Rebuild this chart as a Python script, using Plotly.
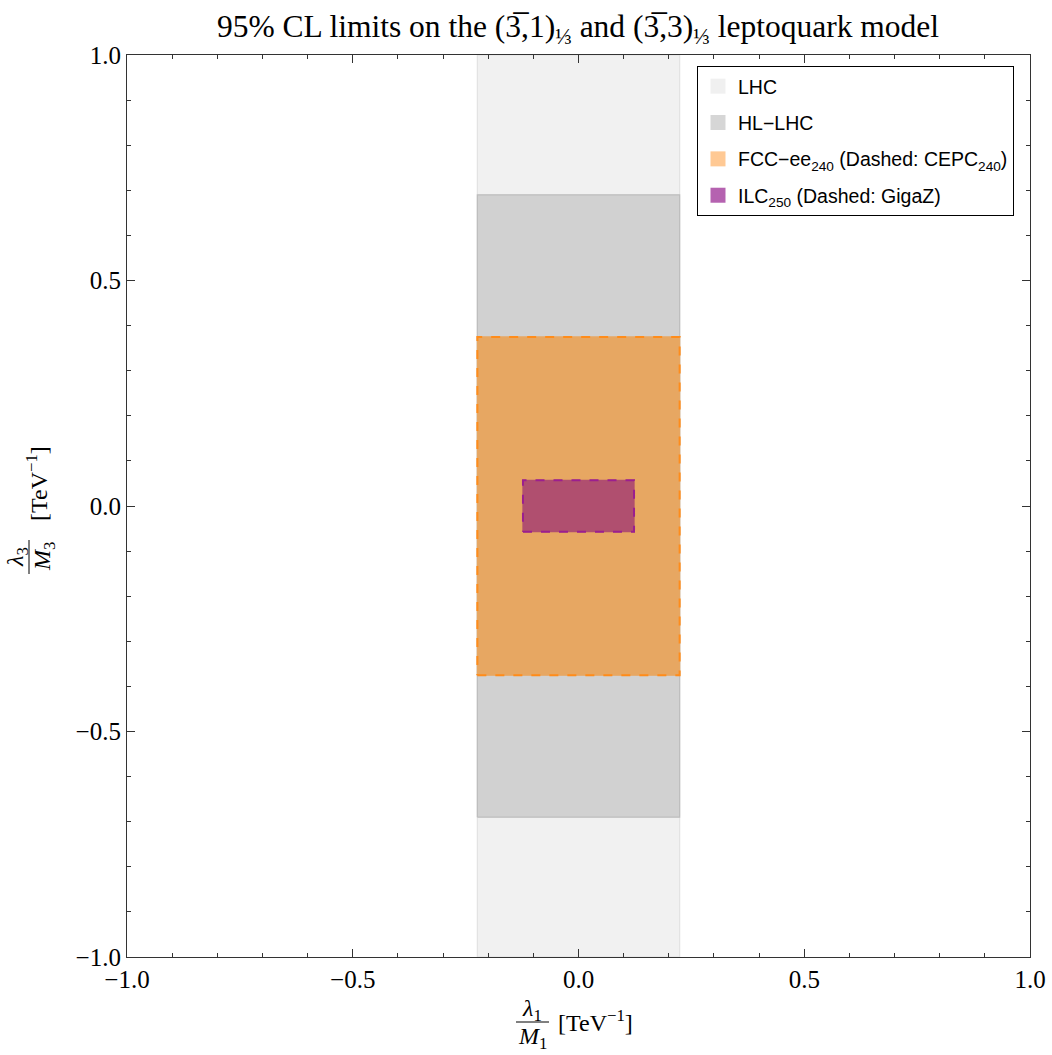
import plotly.graph_objects as go

# ---- data (limits, TeV^-1) ----
region_names = ["LHC", "HL-LHC", "FCC-ee240", "ILC250"]
x_half = [0.224, 0.224, 0.224, 0.123]     # half-width along lambda1/M1
y_half = [1.0, 0.690, 0.375, 0.057]       # half-width along lambda3/M3
dashed_names = ["CEPC240", "GigaZ"]
dashed_x_half = [0.224, 0.123]
dashed_y_half = [0.375, 0.057]
tick_vals = [-1.0, -0.5, 0.0, 0.5, 1.0]
tick_text = ["\u22121.0", "\u22120.5", "0.0", "0.5", "1.0"]

legend_labels = [
    "LHC",
    "HL\u2212LHC",
    "FCC\u2212ee<sub>240</sub> (Dashed: CEPC<sub>240</sub>)",
    "ILC<sub>250</sub> (Dashed: GigaZ)",
]
fill_colors = ["#f1f1f1", "#d1d1d1", "#e7a762", "#b04f6f"]
edge_colors = ["#e2e2e2", "#bdbdbd", "#e7a762", "#b04f6f"]
legend_colors = ["#f0f0f0", "#d6d6d6", "#ffc994", "#b562b0"]
dash_colors = ["#ff8c1a", "#9b1f8f"]

W, H = 1052, 1055
L, R, T, B = 127, 22, 55, 98
PW, PH = W - L - R, H - T - B


def px(x):
    return (x - L) / PW


def py(y):
    return (H - B - y) / PH


def rect(hx, hy):
    return [-hx, hx, hx, -hx, -hx], [-hy, -hy, hy, hy, -hy]


fig = go.Figure()

for i, name in enumerate(region_names):
    xs, ys = rect(x_half[i], y_half[i])
    fig.add_trace(go.Scatter(x=xs, y=ys, fill="toself", mode="lines",
                             fillcolor=fill_colors[i],
                             line=dict(color=edge_colors[i], width=1.2),
                             showlegend=False, hoverinfo="skip", name=name))
    if i >= 2:
        j = i - 2
        dxs, dys = rect(dashed_x_half[j], dashed_y_half[j])
        fig.add_trace(go.Scatter(x=dxs, y=dys, mode="lines",
                                 line=dict(color=dash_colors[j], width=2, dash="dash"),
                                 showlegend=False, hoverinfo="skip",
                                 name=dashed_names[j]))

for i, lab in enumerate(legend_labels):
    fig.add_trace(go.Scatter(x=[None], y=[None], mode="markers",
                             marker=dict(symbol="square", size=15,
                                         color=legend_colors[i],
                                         line=dict(width=0)),
                             name=lab, showlegend=True,
                             legendgroup=f"g{i}"))

axis_common = dict(
    range=[-1, 1], tickvals=tick_vals, ticktext=tick_text,
    ticks="inside", ticklen=8, tickwidth=1, tickcolor="#333",
    mirror="allticks", showline=True, linecolor="#333", linewidth=1.2,
    showgrid=False, zeroline=False, automargin=False,
    tickfont=dict(family="Liberation Serif", size=25, color="black"),
    minor=dict(ticks="inside", ticklen=4, dtick=0.1, tickcolor="#333",
               showgrid=False),
)

fig.update_layout(
    width=W, height=H,
    margin=dict(l=L, r=R, t=T, b=B, autoexpand=False),
    paper_bgcolor="white", plot_bgcolor="white",
    xaxis=dict(**axis_common),
    yaxis=dict(**axis_common),
    title=dict(
        text="95% CL limits on the (3\u0305,1)<sub>\u2153</sub> and (3\u0305,3)<sub>\u2153</sub> leptoquark model",
        font=dict(family="Liberation Serif", size=31.5, color="black"),
        x=px(578), xanchor="center", xref="paper",
        y=1 - 26 / H, yanchor="middle", yref="container"),
    legend=dict(x=px(697), y=py(66), xanchor="left", yanchor="top",
                bgcolor="white", bordercolor="black", borderwidth=1,
                font=dict(family="Liberation Sans", size=19.5, color="black"),
                traceorder="grouped", tracegroupgap=8, itemwidth=30),
    showlegend=True,
)

serif = dict(family="Liberation Serif", size=24, color="black")
# x-axis title as stacked fraction
fig.add_annotation(text="<i>\u03bb</i><sub>1</sub>", x=px(532), y=py(1010),
                   xref="paper", yref="paper", showarrow=False, font=serif,
                   xanchor="center", yanchor="middle")
fig.add_annotation(text="<i>M</i><sub>1</sub>", x=px(532), y=py(1038),
                   xref="paper", yref="paper", showarrow=False, font=serif,
                   xanchor="center", yanchor="middle")
fig.add_annotation(text="[TeV<sup>\u22121</sup>]", x=px(556), y=py(1021),
                   xref="paper", yref="paper", showarrow=False, font=serif,
                   xanchor="left", yanchor="middle")
fig.add_shape(type="line", xref="paper", yref="paper",
              x0=px(516), x1=px(549), y0=py(1022), y1=py(1022),
              line=dict(color="black", width=1))
# y-axis title as stacked fraction (rotated)
fig.add_annotation(text="<i>\u03bb</i><sub>3</sub>", x=px(17), y=py(557),
                   xref="paper", yref="paper", showarrow=False, font=serif,
                   textangle=-90, xanchor="center", yanchor="middle")
fig.add_annotation(text="<i>M</i><sub>3</sub>", x=px(44), y=py(557),
                   xref="paper", yref="paper", showarrow=False, font=serif,
                   textangle=-90, xanchor="center", yanchor="middle")
fig.add_annotation(text="[TeV<sup>\u22121</sup>]", x=px(37), y=py(484),
                   xref="paper", yref="paper", showarrow=False, font=serif,
                   textangle=-90, xanchor="center", yanchor="middle")
fig.add_shape(type="line", xref="paper", yref="paper",
              x0=px(29), x1=px(29), y0=py(540), y1=py(574),
              line=dict(color="black", width=1))

fig.write_html("out.html")
